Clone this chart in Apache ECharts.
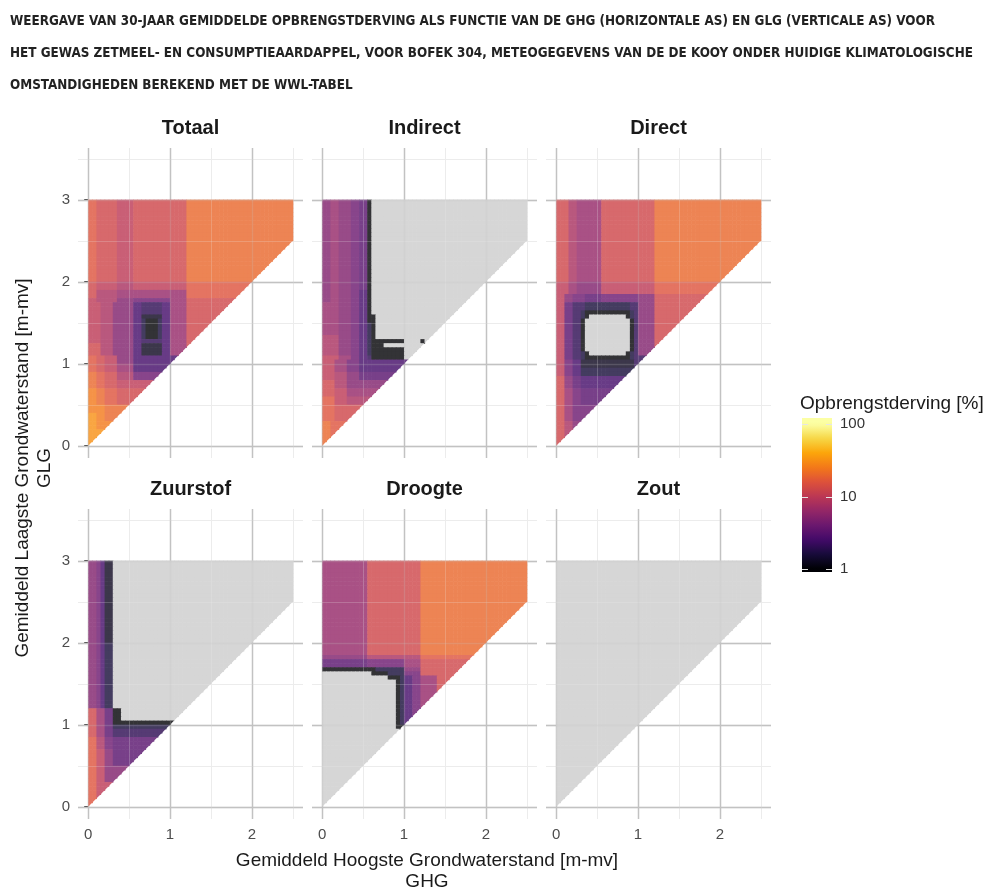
<!DOCTYPE html>
<html><head><meta charset="utf-8">
<script src="https://cdn.jsdelivr.net/npm/echarts@6/dist/echarts.min.js"></script>
<style>html,body{margin:0;padding:0;background:#fff}#c{width:988px;height:891px}</style>
</head><body><div id="c"></div>
<script>
// ---------------- DATA ----------------
const titleLines = [
  "WEERGAVE VAN 30-JAAR GEMIDDELDE OPBRENGSTDERVING ALS FUNCTIE VAN DE GHG (HORIZONTALE AS) EN GLG (VERTICALE AS) VOOR",
  "HET GEWAS ZETMEEL- EN CONSUMPTIEAARDAPPEL, VOOR BOFEK 304, METEOGEGEVENS VAN DE DE KOOY ONDER HUIDIGE KLIMATOLOGISCHE",
  "OMSTANDIGHEDEN BEREKEND MET DE WWL-TABEL"
];
const panelNames = ["Totaal", "Indirect", "Direct", "Zuurstof", "Droogte", "Zout"];
const xTitle = ["Gemiddeld Hoogste Grondwaterstand [m-mv]", "GHG"];
const yTitle = ["Gemiddeld Laagste Grondwaterstand [m-mv]", "GLG"];
const legendTitle = "Opbrengstderving [%]";
const xTicks = [0, 1, 2];
const yTicks = [0, 1, 2, 3];
const xMinorTicks = [0.5, 1.5, 2.5];
const yMinorTicks = [0.5, 1.5, 2.5, 3.5];
const legendTicks = [1, 10, 100];

// grid of cells: GHG 0..2.5, GLG 0..3 in steps of 0.05 (only GLG >= GHG)
const cellSize = 0.05;
const nCols = 50, nRows = 60;
// yield-loss level codes (percent), '_' = 0 (no loss, grey)
const levelCodes = "abcdefghijklmnopqrstu";
const levelValues = [1, 1.26, 1.58, 2, 2.51, 3.16, 3.98, 5.01, 6.31, 7.94, 10, 12.6, 15.8, 20, 25.1, 31.6, 39.8, 50.1, 63.1, 79.4, 100];

// rows from GLG=3 (top) downwards; "repeat:runs", run = code + count ('*' = to the end of the row)
const totaalRows = [
  "20:m2 l5 k4 l13 n*",
  "2:l2 k5 j4 k13 m*",
  "2:l2 j5 i4 i13 m*",
  "1:k2 j5 h4 g9 i4 l*",
  "3:k3 j3 h5 e2 d5 e2 i4 l*",
  "1:k3 j3 h5 e2 b5 e2 i4 l*",
  "5:k3 j3 h5 e2 c1 a3 c1 e2 i4 l*",
  "1:k3 j3 h5 e2 d5 e2 i4 l*",
  "3:l3 j3 h5 e2 b5 e2 i4 l*",
  "2:m2 l2 k3 h4 e*",
  "2:m2 l2 k3 i4 e*",
  "2:n2 m2 l3 j4 g*",
  "2:n2 m2 l3 k*",
  "2:o2 n2 m3 l*",
  "2:o2 n2 m3 l*",
  "2:o4 n*",
  "2:p2 o2 n*",
  "2:p2 o*",
  "4:p*"
];
const indirectRows = [
  "22:h2 i2 h3 g2 f2 a1 _*",
  "3:h2 i2 h3 g2 e2 a1 _*",
  "3:i4 h3 g2 e2 a1 _*",
  "2:i4 h3 g2 e2 a2 _*",
  "3:i4 h3 g2 e2 c1 a1 _*",
  "1:j4 h3 g2 e2 c1 a1 _*",
  "1:j4 h3 g2 e2 c1 a8 _4 a1 _*",
  "1:j4 h3 g2 e2 c1 a3 _*",
  "2:j4 h3 g2 e2 c1 a8 _*",
  "1:k4 i3 g2 e2 d1 a8 _*",
  "3:k3 i3 g3 e*",
  "2:k3 j3 h3 f*",
  "2:l3 j3 h*",
  "2:l3 k3 i*",
  "2:m3 k3 j*",
  "4:m3 l*",
  "6:n2 m*"
];
const directRows = [
  "20:l3 j2 i6 l13 n*",
  "3:k3 i2 h6 k13 m*",
  "2:k2 h2 g3 f4 g9 h4 l*",
  "2:k2 f2 d3 c11 d2 h4 l*",
  "1:k2 f2 d2 c1 a11 c1 d1 h4 l*",
  "1:k2 f2 d2 c1 a1 _9 a1 c1 d1 h4 l*",
  "8:k2 f2 d2 a1 _11 a1 d1 h4 l*",
  "1:k2 f2 d2 c1 a1 _9 a1 c1 d1 h4 l*",
  "1:k2 f2 d2 c1 a11 c1 d*",
  "2:k2 g2 e2 b13 d*",
  "2:k2 g2 e2 c*",
  "3:l2 h2 f2 e*",
  "4:l2 i2 g2 f*",
  "4:l2 i2 g*",
  "3:l2 j2 h*",
  "3:l2 j*"
];
const zuurstofRows = [
  "20:h2 g1 e1 b2 _*",
  "16:h2 g1 e1 c2 _*",
  "3:l2 i2 f2 a2 _*",
  "1:l2 i2 f2 a*",
  "1:l2 i2 f2 c*",
  "2:l2 i2 f2 d*",
  "3:m2 j2 g2 f*",
  "4:m2 k2 h2 f*",
  "4:m2 k2 h*",
  "6:m2 k*"
];
const droogteRows = [
  "23:i11 l13 n*",
  "1:h11 j13 m*",
  "2:f11 g9 i4 l*",
  "1:a13 c7 h4 l*",
  "1:_12 a4 c4 g4 l*",
  "1:_16 a3 c1 e2 g2 i4 l*",
  "11:_18 a1 c1 e2 g2 i4 l*",
  "1:_18 a*",
  "19:_*"
];
const zoutRows = [
  "60:_*"
];
const panelRows = [totaalRows, indirectRows, directRows, zuurstofRows, droogteRows, zoutRows];

// ---------------- STYLE / LAYOUT ----------------
const infernoStops = ["#000004","#160b39","#420a68","#6a176e","#932667","#bc3754","#dd513a","#f37819","#fca50a","#f6d746","#fcffa4"];
const naColor = "#cccccc";
const tileAlpha = 0.8;
const panelLeft = [78, 312, 546];
const panelTop = [148, 509];
const panelW = 225, panelH = 310;
const xMin = -0.125, xMax = 2.625, yMin = -0.15, yMax = 3.63;
const baseFont = "'Liberation Sans', Arial, Helvetica, sans-serif";
const headerFont = "bold 14px 'DejaVu Sans Condensed', 'Liberation Sans Narrow', sans-serif";
const headerWidth = 925;
// colour bar: axis range slightly wider than 1..100 (like ggplot colourbar)
const barMin = 0.91, barMax = 121;

function decode(rows) {
  const cells = [];
  let r = 0;
  rows.forEach(spec => {
    const parts = spec.split(':');
    const rep = +parts[0];
    const toks = parts[1].trim().split(/\s+/);
    for (let k = 0; k < rep; k++) {
      const j = nRows - 1 - r;
      const n = Math.min(j + 1, nCols);
      let i = 0;
      toks.forEach(tok => {
        const code = tok[0], rest = tok.slice(1);
        const len = rest === '*' ? n - i : +rest;
        const v = code === '_' ? 0 : levelValues[levelCodes.indexOf(code)];
        for (let q = 0; q < len && i < n; q++, i++) cells.push([i * cellSize, j * cellSize, v]);
      });
      r++;
    }
  });
  return cells;
}

function hexToRgb(h) { return [parseInt(h.substr(1,2),16), parseInt(h.substr(3,2),16), parseInt(h.substr(5,2),16)]; }
function infernoRgb(t) {
  t = Math.max(0, Math.min(1, t));
  const s = t * 10, k = Math.min(9, Math.floor(s)), f = s - k;
  const a = hexToRgb(infernoStops[k]), b = hexToRgb(infernoStops[k + 1]);
  return a.map((c, i) => c + (b[i] - c) * f);
}
function toWhite(rgb, alpha) {
  return 'rgb(' + rgb.map(c => Math.round(c * alpha + 255 * (1 - alpha))).join(',') + ')';
}
function cellColor(v) {
  if (!(v > 0)) return toWhite(hexToRgb(naColor), tileAlpha);
  return toWhite(infernoRgb(Math.log10(v) / 2), tileAlpha);
}

function cellRender(params, api) {
  const x0 = api.value(0), y0 = api.value(1), v = api.value(2);
  const x1 = x0 + cellSize, y1 = y0 + cellSize;
  const p0 = api.coord([x0, y0]), p1 = api.coord([x1, y1]);
  const fill = cellColor(v);
  const diag = Math.round(x0 / cellSize) === Math.round(y0 / cellSize);
  if (diag) {
    return { type: 'polygon', silent: true,
      shape: { points: [[p0[0], p0[1]], [p0[0], p1[1]], [p1[0], p1[1]]] },
      style: { fill: fill } };
  }
  return { type: 'rect', silent: true,
    shape: { x: p0[0], y: p1[1], width: p1[0] - p0[0] + 0.6, height: p0[1] - p1[1] + 0.6 },
    style: { fill: fill } };
}

function gridData() {
  const d = [];
  xMinorTicks.forEach(v => d.push([0, v, 0]));
  yMinorTicks.forEach(v => d.push([1, v, 0]));
  xTicks.forEach(v => d.push([0, v, 1]));
  yTicks.forEach(v => d.push([1, v, 1]));
  return d;
}
function makeGridRender(overlay) {
  return function (params, api) {
    const orient = api.value(0), v = api.value(1), major = api.value(2);
    const cs = params.coordSys;
    let shape;
    if (orient === 0) {
      const px = Math.round(api.coord([v, 0])[0]) + 0.5;
      shape = { x1: px, y1: cs.y, x2: px, y2: cs.y + cs.height };
    } else {
      const py = Math.round(api.coord([0, v])[1]) + 0.5;
      shape = { x1: cs.x, y1: py, x2: cs.x + cs.width, y2: py };
    }
    return { type: 'line', silent: true, shape: shape,
      style: { stroke: major ? '#c2c2c2' : '#ececec', lineWidth: major ? 1.4 : 1, opacity: overlay ? 0.22 : 1 } };
  };
}

const grids = [], xAxes = [], yAxes = [], series = [], graphics = [];
panelNames.forEach((name, k) => {
  const row = Math.floor(k / 3), col = k % 3;
  grids.push({ left: panelLeft[col], top: panelTop[row], width: panelW, height: panelH, containLabel: false });
  xAxes.push({ gridIndex: k, type: 'value', min: xMin, max: xMax,
    axisLine: { show: false }, splitLine: { show: false },
    axisTick: { show: row === 1, customValues: xTicks, length: 4, lineStyle: { color: '#333333' } },
    axisLabel: { show: row === 1, customValues: xTicks, fontSize: 15, color: '#4d4d4d', margin: 8, fontFamily: baseFont } });
  yAxes.push({ gridIndex: k, type: 'value', min: yMin, max: yMax,
    axisLine: { show: false }, splitLine: { show: false },
    axisTick: { show: col === 0, customValues: yTicks, length: 4, lineStyle: { color: '#333333' } },
    axisLabel: { show: col === 0, customValues: yTicks, fontSize: 15, color: '#4d4d4d', margin: 8, fontFamily: baseFont } });
  series.push({ type: 'custom', xAxisIndex: k, yAxisIndex: k, z: 1, clip: false, silent: true,
    data: gridData(), renderItem: makeGridRender(false) });
  series.push({ type: 'custom', xAxisIndex: k, yAxisIndex: k, z: 2, clip: false, silent: true,
    progressive: 0, data: decode(panelRows[k]), renderItem: cellRender });
  series.push({ type: 'custom', xAxisIndex: k, yAxisIndex: k, z: 3, clip: false, silent: true,
    data: gridData(), renderItem: makeGridRender(true) });
  graphics.push({ type: 'text', silent: true,
    style: { text: name, x: panelLeft[col] + panelW / 2, y: panelTop[row] - 20,
      font: 'bold 20px ' + baseFont, fill: '#1a1a1a', textAlign: 'center', textVerticalAlign: 'middle' } });
});

// colour bar legend (log scale)
const lg = panelNames.length;
grids.push({ left: 802, top: 418, width: 30, height: 154, containLabel: false });
xAxes.push({ gridIndex: lg, type: 'value', min: 0, max: 1, show: false });
yAxes.push({ gridIndex: lg, type: 'log', logBase: 10, min: barMin, max: barMax, position: 'right',
  axisLine: { show: false }, axisTick: { show: false }, splitLine: { show: false },
  axisLabel: { customValues: legendTicks, showMinLabel: true, showMaxLabel: true, fontSize: 15, color: '#333333', margin: 8, fontFamily: baseFont } });
function barStops() {
  const stops = [];
  const l0 = Math.log10(barMin), l1 = Math.log10(barMax);
  for (let s = 0; s <= 40; s++) {
    const lv = l0 + (l1 - l0) * s / 40;
    const c = infernoRgb(lv / 2).map(Math.round);
    stops.push({ offset: s / 40, color: 'rgb(' + c.join(',') + ')' });
  }
  return stops;
}
series.push({ type: 'custom', xAxisIndex: lg, yAxisIndex: lg, clip: false, silent: true,
  data: [[0, barMin, 1, barMax]],
  renderItem: function (params, api) {
    const p0 = api.coord([api.value(0), api.value(1)]);
    const p1 = api.coord([api.value(2), api.value(3)]);
    return { type: 'rect', shape: { x: p0[0], y: p1[1], width: p1[0] - p0[0], height: p0[1] - p1[1] },
      style: { fill: { type: 'linear', x: 0, y: 1, x2: 0, y2: 0, colorStops: barStops() } } };
  } });
series.push({ type: 'custom', xAxisIndex: lg, yAxisIndex: lg, clip: false, silent: true, z: 4,
  data: legendTicks.map(v => [0, v]),
  renderItem: function (params, api) {
    const pL = api.coord([0, api.value(1)]), pR = api.coord([1, api.value(1)]);
    const y = Math.round(pL[1]) + 0.5;
    return { type: 'group', children: [
      { type: 'line', shape: { x1: pL[0], y1: y, x2: pL[0] + 6, y2: y }, style: { stroke: '#e6e6e6', lineWidth: 1 } },
      { type: 'line', shape: { x1: pR[0] - 6, y1: y, x2: pR[0], y2: y }, style: { stroke: '#e6e6e6', lineWidth: 1 } }
    ] };
  } });

// texts
const measureCtx = document.createElement('canvas').getContext('2d');
measureCtx.font = headerFont;
const headerScale = headerWidth / measureCtx.measureText(titleLines[0]).width;
const headerY = [21, 53, 85];
titleLines.forEach((t, i) => graphics.push({ type: 'text', silent: true, x: 10, y: headerY[i], scaleX: headerScale,
  style: { text: t, x: 0, y: 0, font: headerFont,
    fill: '#222222', textAlign: 'left', textVerticalAlign: 'middle' } }));
graphics.push({ type: 'text', silent: true,
  style: { text: xTitle[0], x: 427, y: 861, font: '19px ' + baseFont, fill: '#1a1a1a', textAlign: 'center', textVerticalAlign: 'middle' } });
graphics.push({ type: 'text', silent: true,
  style: { text: xTitle[1], x: 427, y: 882, font: '19px ' + baseFont, fill: '#1a1a1a', textAlign: 'center', textVerticalAlign: 'middle' } });
graphics.push({ type: 'text', silent: true, x: 23, y: 468, rotation: Math.PI / 2,
  style: { text: yTitle[0], x: 0, y: 0, font: '19px ' + baseFont, fill: '#1a1a1a', textAlign: 'center', textVerticalAlign: 'middle' } });
graphics.push({ type: 'text', silent: true, x: 45, y: 468, rotation: Math.PI / 2,
  style: { text: yTitle[1], x: 0, y: 0, font: '19px ' + baseFont, fill: '#1a1a1a', textAlign: 'center', textVerticalAlign: 'middle' } });
graphics.push({ type: 'text', silent: true,
  style: { text: legendTitle, x: 800, y: 404, font: '19px ' + baseFont, fill: '#1a1a1a', textAlign: 'left', textVerticalAlign: 'middle' } });

const chart = echarts.init(document.getElementById('c'), null, { renderer: 'canvas', width: 988, height: 891 });
chart.setOption({
  animation: false,
  backgroundColor: '#ffffff',
  grid: grids, xAxis: xAxes, yAxis: yAxes, series: series,
  graphic: { elements: graphics }
});
</script>
</body></html>
